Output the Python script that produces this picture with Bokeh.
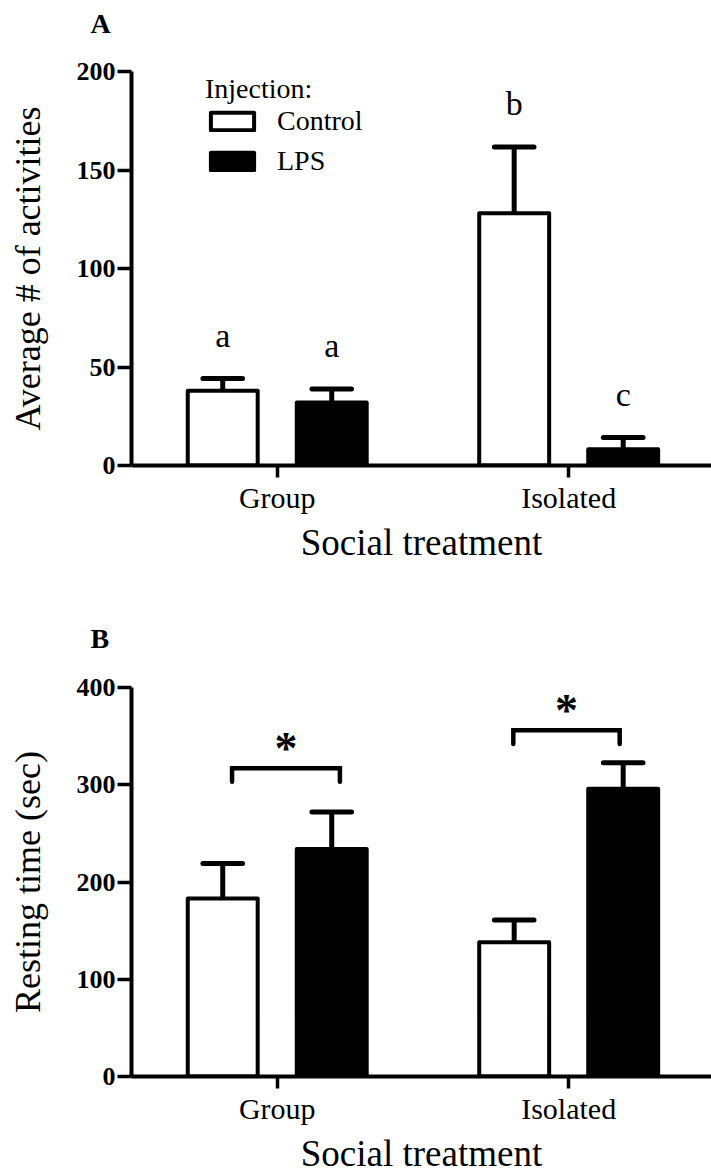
from bokeh.plotting import figure
from bokeh.models import Range1d, FixedTicker, Legend
from bokeh.layouts import column
from bokeh.embed import file_html
from bokeh.resources import INLINE
from bokeh.core.properties import value

# ---- data ----
categories = ["Group", "Isolated"]
injections = ["Control", "LPS"]

activity_control = [38, 128]
activity_control_sem = [6.2, 33.7]
activity_lps = [32, 8.2]
activity_lps_sem = [6.8, 6.0]
activity_letters_control = ["a", "b"]
activity_letters_lps = ["a", "c"]
activity_ticks = [0, 50, 100, 150, 200]

resting_control = [183, 138]
resting_control_sem = [36, 23]
resting_lps = [234, 296]
resting_lps_sem = [38, 26.5]
resting_sig = ["*", "*"]
resting_ticks = [0, 100, 200, 300, 400]

# ---- styling ----
SERIF = "Liberation Serif"
BAR_W = 0.24
OFFSET = 0.187
CAP_HALF = 0.068


def make_panel(letter, ylabel, yticks, control, control_sem, lps, lps_sem,
               height, top, bottom, title_standoff):
    p = figure(width=711, height=height,
               x_range=Range1d(0, 1.99), y_range=Range1d(yticks[0], yticks[-1]),
               output_backend="svg", toolbar_location=None,
               min_border_left=131, min_border_right=0,
               min_border_top=top, min_border_bottom=bottom)
    p.grid.visible = False
    p.outline_line_color = None
    p.background_fill_color = "white"
    p.border_fill_color = "white"

    # panel letter; the trailing blank line lifts it well above the axis
    p.title.text = letter + "\n"
    p.title.text_font = SERIF
    p.title.text_font_size = "28px"
    p.title.text_font_style = "bold"
    p.title.text_color = "black"
    p.title.align = "left"
    p.title.offset = -41
    p.title.standoff = title_standoff

    centers = [i + 0.5 for i in range(len(categories))]
    xc = [c - OFFSET for c in centers]
    xl = [c + OFFSET for c in centers]

    # error bars (upper only)
    for xs, vals, errs in ((xc, control, control_sem), (xl, lps, lps_sem)):
        tops = [v + e for v, e in zip(vals, errs)]
        p.segment(x0=xs, y0=vals, x1=xs, y1=tops, line_color="black",
                  line_width=5)
        p.segment(x0=[x - CAP_HALF for x in xs], y0=tops,
                  x1=[x + CAP_HALF for x in xs], y1=tops,
                  line_color="black", line_width=5, line_cap="round")

    r_ctrl = p.vbar(x=xc, top=control, bottom=0, width=BAR_W,
                    fill_color="white", line_color="black", line_width=4,
                    line_join="round")
    r_lps = p.vbar(x=xl, top=lps, bottom=0, width=BAR_W,
                   fill_color="black", line_color="black", line_width=4,
                   line_join="round")

    xa = p.xaxis[0]
    xa.ticker = FixedTicker(ticks=centers)
    xa.major_label_overrides = {c: name for c, name in zip(centers, categories)}
    xa.axis_label = "Social treatment"
    xa.axis_line_width = 4
    xa.axis_line_color = "black"
    xa.major_tick_line_width = 3.5
    xa.major_tick_line_color = "black"
    xa.major_tick_out = 12
    xa.major_tick_in = 0
    xa.minor_tick_line_color = None
    xa.major_label_text_font = SERIF
    xa.major_label_text_font_size = "30px"
    xa.major_label_text_color = "black"
    xa.major_label_standoff = 3
    xa.axis_label_text_font = SERIF
    xa.axis_label_text_font_size = "37px"
    xa.axis_label_text_font_style = "normal"
    xa.axis_label_text_color = "black"
    xa.axis_label_standoff = 5

    ya = p.yaxis[0]
    ya.ticker = FixedTicker(ticks=yticks)
    ya.axis_label = ylabel
    ya.axis_line_width = 4
    ya.axis_line_color = "black"
    ya.major_tick_line_width = 3.5
    ya.major_tick_line_color = "black"
    ya.major_tick_out = 14
    ya.major_tick_in = 0
    ya.minor_tick_line_color = None
    ya.major_label_text_font = SERIF
    ya.major_label_text_font_size = "26px"
    ya.major_label_text_font_style = "bold"
    ya.major_label_text_color = "black"
    ya.major_label_standoff = 2
    ya.axis_label_text_font = SERIF
    ya.axis_label_text_font_size = "36px"
    ya.axis_label_text_font_style = "normal"
    ya.axis_label_text_color = "black"
    ya.axis_label_standoff = 26

    return p, centers, xc, xl, r_ctrl, r_lps


# ---- panel A: activities ----
pA, cA, xcA, xlA, rcA, rlA = make_panel(
    "A", "Average # of activities", activity_ticks,
    activity_control, activity_control_sem, activity_lps, activity_lps_sem,
    height=590, top=71, bottom=125, title_standoff=4)

# group letters sit a fixed distance above each error bar
letter_gap = 22
for xs, vals, errs, labels in ((xcA, activity_control, activity_control_sem, activity_letters_control),
                               (xlA, activity_lps, activity_lps_sem, activity_letters_lps)):
    pA.text(x=xs, y=[v + e + letter_gap for v, e in zip(vals, errs)], text=labels,
            text_font=value(SERIF), text_font_size="34px", text_color="black",
            text_align="center", text_baseline="alphabetic")

legend = Legend(items=[(injections[0], [rcA]), (injections[1], [rlA])],
                title="Injection:", location=(74, 288),
                orientation="vertical")
legend.title_text_font = SERIF
legend.title_text_font_size = "28px"
legend.title_text_font_style = "normal"
legend.title_text_color = "black"
legend.title_standoff = 0
legend.label_text_font = SERIF
legend.label_text_font_size = "28px"
legend.label_text_color = "black"
legend.glyph_width = 54
legend.glyph_height = 22
legend.label_standoff = 18
legend.spacing = 8
legend.padding = 0
legend.margin = 0
legend.border_line_color = None
legend.background_fill_alpha = 0
pA.add_layout(legend)

# ---- panel B: resting time ----
pB, cB, xcB, xlB, rcB, rlB = make_panel(
    "B", "Resting time (sec)", resting_ticks,
    resting_control, resting_control_sem, resting_lps, resting_lps_sem,
    height=586, top=97, bottom=100, title_standoff=6)

# significance brackets between Control and LPS
bracket_left = [-0.155, -0.19]
bracket_right = [0.215, 0.175]
bracket_y = [317, 356]
bracket_leg = 14
bx, by = [], []
for c, l, r, y in zip(cB, bracket_left, bracket_right, bracket_y):
    bx.append([c + l, c + l, c + r, c + r])
    by.append([y - bracket_leg, y, y, y - bracket_leg])
pB.multi_line(xs=bx, ys=by, line_color="black", line_width=4.5,
              line_cap="round", line_join="miter")
pB.text(x=[c + (l + r) / 2 for c, l, r in zip(cB, bracket_left, bracket_right)],
        y=[y + 20 for y in bracket_y], text=resting_sig,
        text_font=value(SERIF), text_font_size="46px", text_font_style="bold",
        text_color="black", text_align="center", text_baseline="alphabetic")

layout = column(pA, pB, spacing=0)
open("out.html", "w").write(file_html(layout, INLINE))
